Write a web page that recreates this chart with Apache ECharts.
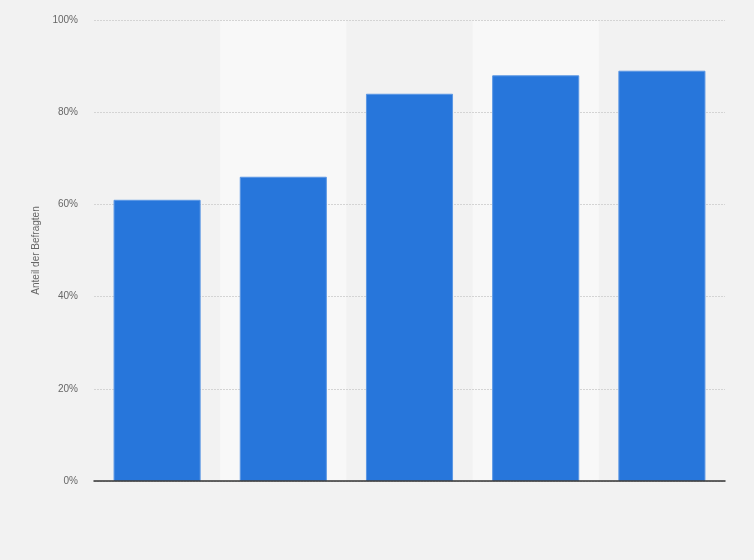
<!DOCTYPE html>
<html>
<head>
    <meta charset="UTF-8">
    <title>Anteil der Befragten</title>
    <script src="https://cdn.jsdelivr.net/npm/echarts@6/dist/echarts.min.js"></script>
    <style>
        html, body { margin: 0; padding: 0; background: #f2f2f2; }
        #chart { width: 754px; height: 560px; }
    </style>
</head>
<body>
<div id="chart"></div>
<script>
    // Kategorien haben im Original keine sichtbaren Beschriftungen
    var categories = ['1', '2', '3', '4', '5'];
    var shares = [61, 66, 84, 88, 89];
    var yTicks = [0, 20, 40, 60, 80, 100];

    var chart = echarts.init(document.getElementById('chart'), null, {renderer: 'canvas'});
    var option = {
        backgroundColor: '#f2f2f2',
        animation: false,
        grid: {left: 94, right: 29, top: 20, bottom: 79},
        xAxis: [{
            // sichtbare Achse unten, über Balken und Gitterlinien
            type: 'category',
            data: categories,
            position: 'bottom',
            z: 5,
            axisLine: {lineStyle: {color: '#333', width: 1.5}},
            axisTick: {show: false},
            axisLabel: {show: false}
        }, {
            // nur für die hellen Hintergrundstreifen
            type: 'category',
            data: categories,
            position: 'top',
            z: 0,
            axisLine: {show: false},
            axisTick: {show: false},
            axisLabel: {show: false},
            splitArea: {show: true, areaStyle: {color: ['rgba(0,0,0,0)', '#f8f8f8']}}
        }],
        yAxis: {
            type: 'value',
            min: yTicks[0],
            max: yTicks[yTicks.length - 1],
            interval: 20,
            z: 1,
            name: 'Anteil der Befragten',
            nameLocation: 'middle',
            nameGap: 53,
            nameTextStyle: {color: '#666', fontSize: 10, fontFamily: 'Liberation Sans'},
            axisLine: {show: false},
            axisTick: {show: false},
            axisLabel: {
                color: '#666', fontSize: 10, fontFamily: 'Liberation Sans', margin: 16,
                formatter: function (v) { return v + '%'; }
            },
            splitLine: {lineStyle: {color: '#d4d4d4', type: [2, 1]}}
        },
        series: [{
            type: 'bar',
            data: shares,
            xAxisIndex: 0,
            barWidth: '69%',
            z: 2,
            itemStyle: {color: '#2776db', borderColor: '#5b97e4', borderWidth: 1}
        }]
    };
    chart.setOption(option);
</script>
</body>
</html>
